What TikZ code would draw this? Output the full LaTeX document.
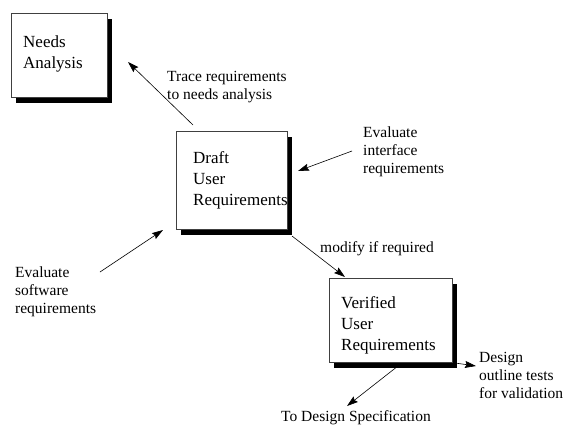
\documentclass[tikz,border=0pt]{standalone}
\usepackage{fontspec}
\setmainfont{Liberation Serif}
\usetikzlibrary{arrows.meta,shadows}
\begin{document}
\begin{tikzpicture}[x=1pt,y=-1pt,
  box/.style={draw=black!75, line width=0.6pt, fill=white, anchor=north west, inner sep=0pt,
    drop shadow={shadow xshift=5pt, shadow yshift=-6pt, fill=black, opacity=1}},
  boxtext/.style={anchor=north west, inner sep=0pt, align=left,
    font=\fontsize{17}{21}\selectfont},
  note/.style={anchor=north west, inner sep=0pt, align=left,
    font=\fontsize{15.5}{17.8}\selectfont},
  flow/.style={line width=0.6pt, -{Stealth[length=11pt,width=7pt,inset=1.5pt]}}]

  \useasboundingbox (0,0) rectangle (565,426);

  % requirement boxes with drop shadows
  \node[box, minimum width=96pt, minimum height=84pt] (needs) at (11,13) {};
  \node[box, minimum width=111pt, minimum height=98pt] (draft) at (176,131) {};
  \node[box, minimum width=123pt, minimum height=84pt] (verified) at (329,278) {};

  % box captions
  \node[boxtext] (needstext) at (23,35.5) {Needs\\Analysis};
  \node[boxtext] (drafttext) at (193,151.5) {Draft\\User\\Requirements};
  \node[boxtext] (verifiedtext) at (341,296) {Verified\\User\\Requirements};

  % activity notes
  \node[note] (trace) at (167,71.5) {Trace requirements\\to needs analysis};
  \node[note] (interface) at (363,126.5) {Evaluate\\interface\\requirements};
  \node[note] (software) at (15,266.5) {Evaluate\\software\\requirements};
  \node[note] (modify) at (320,241.5) {modify if required};
  \node[note] (outline) at (479,352.5) {Design\\outline tests\\for validation};
  \node[note] (spec) at (281,410) {To Design Specification};

  % connector end points
  \coordinate (traceA) at (193,125);
  \coordinate (traceB) at (128,62);
  \coordinate (ifaceA) at (352,151);
  \coordinate (ifaceB) at (298,171);
  \coordinate (swA) at (100,272);
  \coordinate (swB) at (163,230);
  \coordinate (modA) at (292,236);
  \coordinate (modB) at (345,277);
  \coordinate (outA) at (455,363);
  \coordinate (outB) at (476,366);
  \coordinate (specA) at (398,366);
  \coordinate (specB) at (347,406);

  \draw[flow] (traceA) -- (traceB);
  \draw[flow] (ifaceA) -- (ifaceB);
  \draw[flow] (swA) -- (swB);
  \draw[flow] (modA) -- (modB);
  \draw[flow] (outA) -- (outB);
  \draw[flow] (specA) -- (specB);
\end{tikzpicture}
\end{document}
